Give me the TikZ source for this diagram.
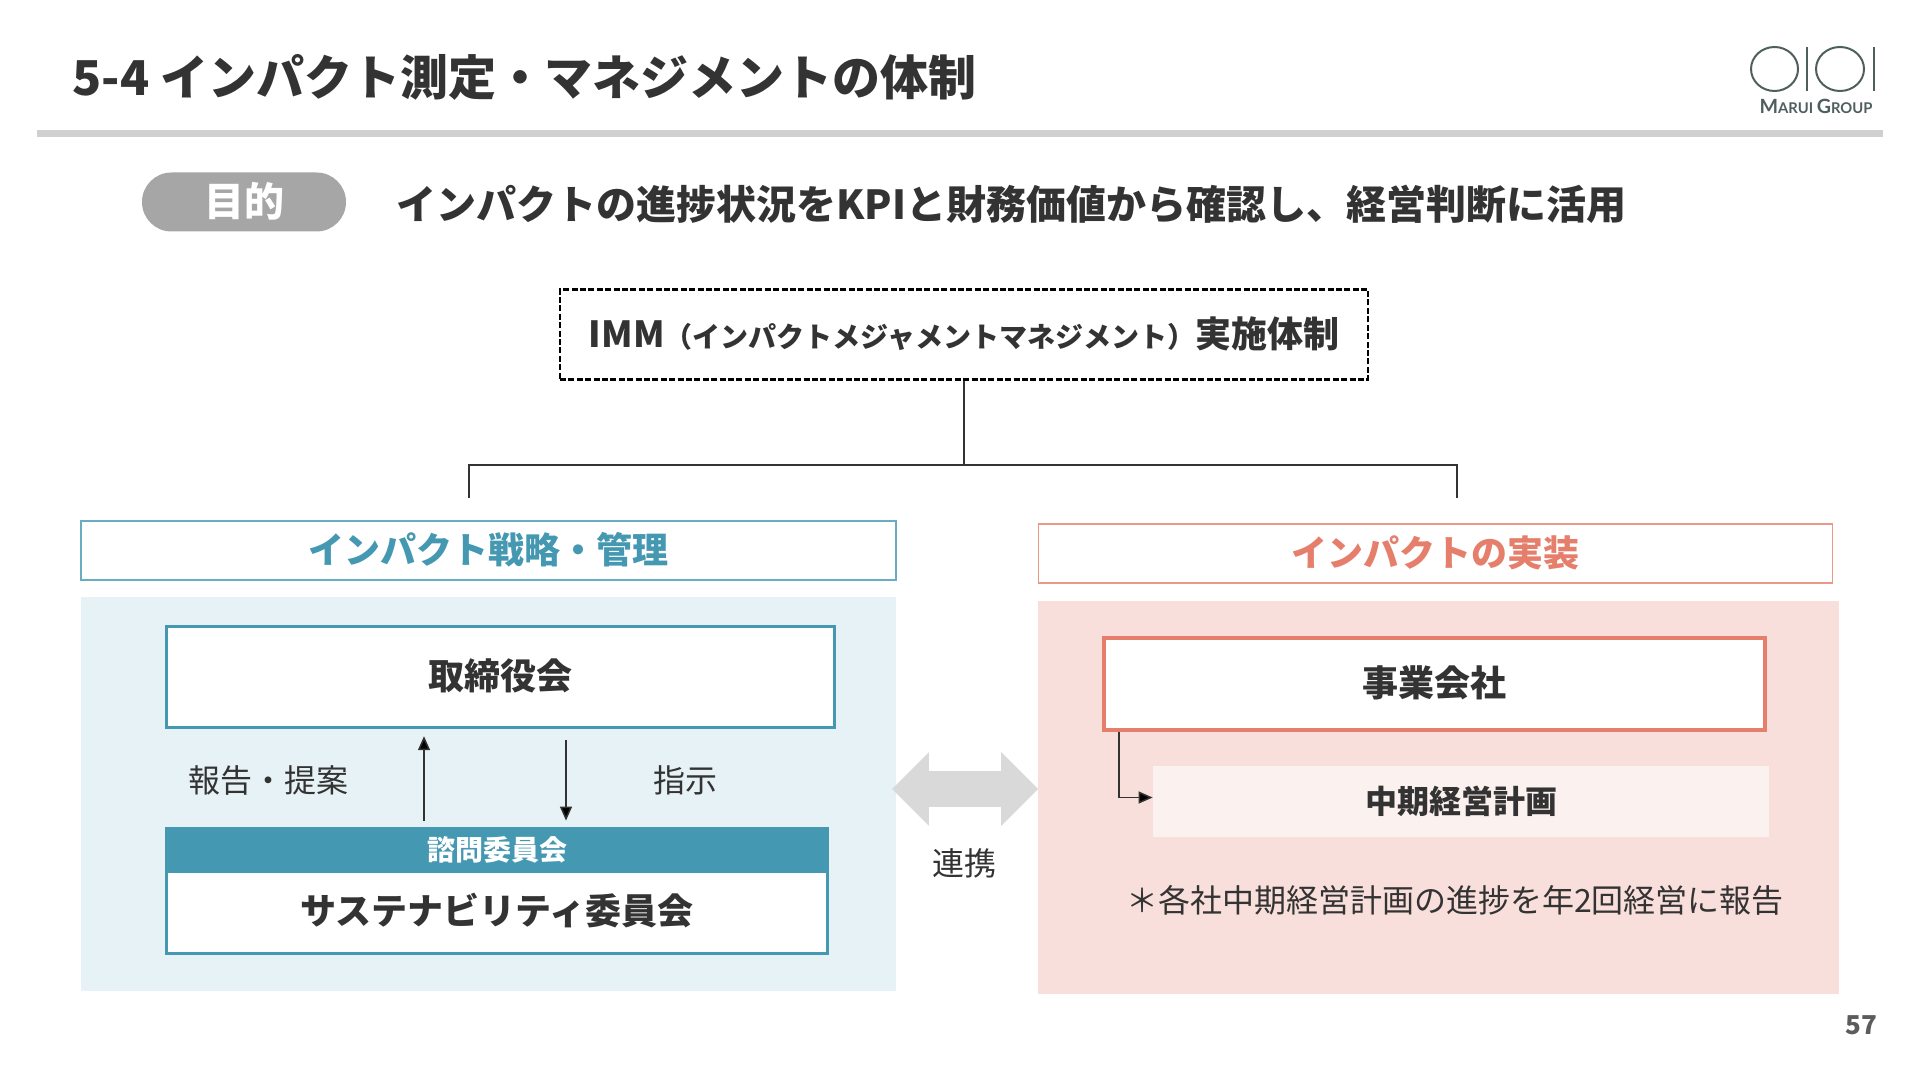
\documentclass[tikz,border=0pt]{standalone}
\usepackage{fontspec}
\setmainfont{Noto Sans CJK JP}
\newfontfamily\logofont{Lato}
\usetikzlibrary{arrows.meta,positioning,shapes.arrows}
\definecolor{inkgray}{HTML}{333333}
\definecolor{rulegray}{HTML}{D0D0D0}
\definecolor{pillgray}{HTML}{A6A6A6}
\definecolor{linkgray}{HTML}{D9D9D9}
\definecolor{logogray}{HTML}{4F5F5D}
\definecolor{teal}{HTML}{4598B1}
\definecolor{tealpale}{HTML}{E6F2F5}
\definecolor{salmon}{HTML}{E57F6C}
\definecolor{salmonpale}{HTML}{F9DFDB}
\definecolor{salmonwash}{HTML}{FBF1EE}
\newcommand{\sz}[1]{\fontsize{#1}{#1}\selectfont}

\begin{document}
\begin{tikzpicture}[x=0.5pt,y=-0.5pt,>={Triangle[length=7pt,width=6pt]},thin]
\tikzstyle{every node}=[text=inkgray,inner sep=0pt]
\tikzstyle{lifted}=[text height=16pt,text depth=3.4pt]
\tikzstyle{heading}=[draw,line width=0.6pt,fill=white,minimum height=29.5pt,font=\sz{18}\bfseries,lifted]
\tikzstyle{bodybox}=[draw,line width=1.7pt,fill=white,font=\sz{18}\bfseries,lifted]
\tikzstyle{plain label}=[font=\sz{16}]
\tikzstyle{link}=[line width=0.75pt,draw=inkgray]

\useasboundingbox (0,0) rectangle (1920,1080);

% header
\node (title) [anchor=west,font=\sz{24}\bfseries] at (72,77) {5-4 インパクト測定・マネジメントの体制};
\fill[rulegray] (37,130) rectangle (1883,137);
\draw[logogray,line width=1pt] (1774.5,69) ellipse (23.5 and 22);
\draw[logogray,line width=1pt] (1840,69) ellipse (24 and 22);
\draw[logogray,line width=1pt] (1807,47) -- (1807,91);
\draw[logogray,line width=1pt] (1874,47) -- (1874,91);
\node (logotext) [text=logogray,font=\logofont\bfseries\sz{7.4}] at (1816,106) {{\sz{9.8}M}ARUI {\sz{9.8}G}ROUP};

% purpose
\node (pill) [fill=pillgray,rounded corners=14.7pt,minimum width=102pt,minimum height=29.5pt] at (244,202) {};
\node (purpose) [text=white,font=\sz{20}\bfseries] at (244,201) {目的};
\node (goal) [anchor=west,font=\sz{20}\bfseries] at (396,204) {インパクトの進捗状況をKPIと財務価値から確認し、経営判断に活用};

% top of the tree
\node (imm) [draw,dash pattern=on 3pt off 1.2pt,line width=1.1pt,minimum width=404pt,minimum height=45pt,font=\sz{18}\bfseries,lifted] at (964,334.5) {IMM{\sz{14}（インパクトメジャメントマネジメント）}実施体制};
\coordinate (trunk) at (964,465);
\coordinate (dropL) at (469,498);
\coordinate (dropR) at (1457,498);

% left side
\node (stratbg) [fill=tealpale,minimum width=407.5pt,minimum height=197pt] at (488.5,794) {};
\node (strat) [heading,draw=teal!80,text=teal,minimum width=407.5pt] at (488.5,550.5) {インパクト戦略・管理};
\node (board) [bodybox,draw=teal,minimum width=334pt,minimum height=50.5pt] at (500.5,677) {取締役会};
\node (sus) [bodybox,draw=teal,minimum width=330.5pt,minimum height=41.5pt] at (497,912) {サステナビリティ委員会};
\node (advisory) [fill=teal,text=white,minimum width=332pt,minimum height=23pt,font=\sz{14}\bfseries] at (497,850) {諮問委員会};
\node (report) [plain label] at (268,780) {報告・提案};
\node (order) [plain label] at (685,780) {指示};
\coordinate (upx) at (424,0);
\coordinate (downx) at (566,0);

% right side
\node (implbg) [fill=salmonpale,minimum width=400.5pt,minimum height=196.5pt] at (1438.5,797.5) {};
\node (impl) [heading,draw=salmon!80,text=salmon,minimum width=397pt] at (1435.5,553.5) {インパクトの実装};
\node (company) [bodybox,draw=salmon,line width=2pt,minimum width=330.5pt,minimum height=46pt] at (1434.5,683.5) {事業会社};
\node (plan) [fill=salmonwash,minimum width=308pt,minimum height=35.5pt,font=\sz{16}\bfseries] at (1461,801.5) {中期経営計画};
\node (note) [plain label] at (1455,900) {＊各社中期経営計画の進捗を年2回経営に報告};
\coordinate (elbow) at (1119,797.5);

% middle
\node (both) [double arrow,fill=linkgray,double arrow head extend=9.5pt,inner xsep=0pt,inner ysep=8.75pt,minimum height=73pt] at (965,789) {};
\node (linktext) [plain label] at (964,863) {連携};

\node (pagenum) [text=inkgray!80,font=\sz{13}\bfseries] at (1861,1025) {57};

\path[link]
(imm.south) edge (trunk)
(dropL) edge[to path={|- (\tikztotarget)}] (trunk)
(trunk) edge[to path={-| (\tikztotarget)}] (dropR)
(advisory.north -| upx) edge[->,shorten <=3pt,shorten >=3.5pt] (board.south -| upx)
(board.south -| downx) edge[->,shorten <=5.5pt,shorten >=3pt] (advisory.north -| downx)
(company.south -| elbow) edge (elbow)
(elbow) edge[->] (plan.west |- elbow)
;
\end{tikzpicture}
\end{document}
